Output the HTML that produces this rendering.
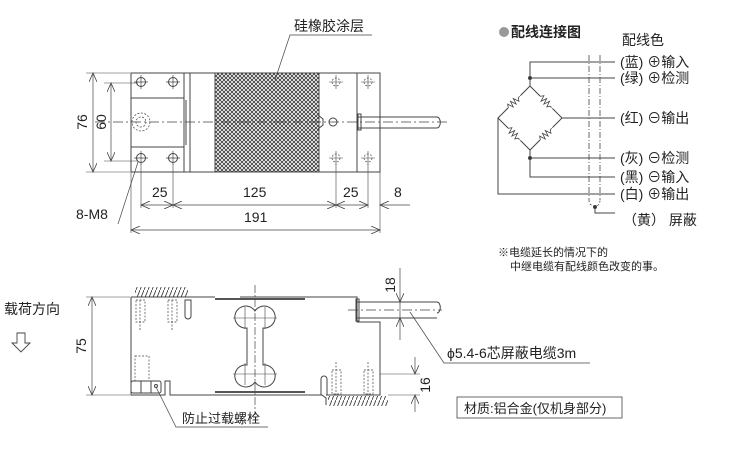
<!DOCTYPE html>
<html><head><meta charset="utf-8"><style>
body{margin:0;background:#fff}
svg{display:block}
text{font-family:"Liberation Sans","Noto Sans CJK SC",sans-serif;fill:#222}
</style></head><body>
<svg width="745" height="450" viewBox="0 0 745 450" xmlns="http://www.w3.org/2000/svg">
<defs>
<pattern id="x" width="4" height="4" patternUnits="userSpaceOnUse">
<path d="M0 0L4 4M4 0L0 4" stroke="#333" stroke-width="0.8"/></pattern>
<pattern id="h" width="4" height="10" patternUnits="userSpaceOnUse">
<path d="M0 10L4 0" stroke="#333" stroke-width="0.8"/></pattern>
<marker id="a" markerWidth="10" markerHeight="8" refX="9" refY="4" orient="auto-start-reverse" markerUnits="userSpaceOnUse"><path d="M0 0L9 4L0 8" fill="none" stroke="#444" stroke-width="0.8"/></marker>
<g id="res"><rect x="-9" y="-4" width="18" height="8" fill="#fff" stroke="none"/><path d="M-10 0h2l2-3l2 6l2-6l2 6l2-6l2 6l2-3h2" fill="none" stroke="#444" stroke-width="0.8"/></g>
</defs>
<g fill="none" stroke="#444" stroke-width="1">
<!-- TOP VIEW -->
<rect x="131" y="73" width="249" height="99"/>
<rect x="215" y="73" width="104" height="99" fill="url(#x)" stroke="none"/>
<line x1="215" y1="73" x2="215" y2="172"/><line x1="319" y1="73" x2="319" y2="172"/>
<line x1="184" y1="73" x2="184" y2="172"/><line x1="190" y1="73" x2="190" y2="172"/>
<line x1="357" y1="73" x2="357" y2="172"/>
<path d="M131 98H184M131 147H184M186 100V145"/>
<circle cx="141" cy="82" r="4.5"/><circle cx="173" cy="82" r="4.5"/>
<circle cx="141" cy="158" r="4.5"/><circle cx="173" cy="158" r="4.5"/>
<path d="M134 82h14M141 75v14M166 82h14M173 75v14M134 158h14M141 151v14M166 158h14M173 151v14" stroke-width="0.7"/>
<g stroke-dasharray="2,1.5" stroke-width="0.7"><circle cx="336" cy="82" r="4"/><circle cx="368" cy="82" r="4"/><circle cx="336" cy="158" r="4"/><circle cx="368" cy="158" r="4"/><circle cx="141" cy="122" r="9"/><circle cx="141" cy="122" r="5"/></g>
<path d="M329 82h14M336 75v14M361 82h14M368 75v14M329 158h14M336 151v14M361 158h14M368 151v14" stroke-width="0.6"/>
<circle cx="333" cy="122" r="4"/><path d="M318 115l5 4v6l-5 4" />
<path d="M357 117H437M357 128H437M358 114h3v16h-3z"/>
<path d="M437 117a3 5 0 0 1 0 11" />
<path d="M95 122H450" stroke-dasharray="10,3,2,3" stroke-width="0.7"/>
<!-- dims -->
<path d="M86 73h44M104 83h34M104 161h34M86 172h44" stroke-width="0.6"/>
<line x1="93" y1="73" x2="93" y2="172" marker-start="url(#a)" marker-end="url(#a)" stroke-width="0.7"/>
<line x1="111" y1="83" x2="111" y2="161" marker-start="url(#a)" marker-end="url(#a)" stroke-width="0.7"/>
<path d="M141 164V208M173 164V208M336 164V208M368 164V208M380 172V233M131 172V233" stroke-width="0.6"/>
<g stroke-width="0.7">
<line x1="141" y1="205" x2="173" y2="205" marker-start="url(#a)" marker-end="url(#a)"/>
<line x1="173" y1="205" x2="336" y2="205" marker-start="url(#a)" marker-end="url(#a)"/>
<line x1="336" y1="205" x2="368" y2="205" marker-start="url(#a)" marker-end="url(#a)"/>
<line x1="380" y1="205" x2="410" y2="205" marker-start="url(#a)"/>
<line x1="131" y1="230" x2="380" y2="230" marker-start="url(#a)" marker-end="url(#a)"/>
<path d="M118 224L138 162"/>
<path d="M275 80L290 35H372"/>
</g>
<!-- WIRING -->
<path d="M589 55V200M600 55V200" stroke-dasharray="6,2,1,2" stroke-width="0.8"/>
<path d="M589 200q0 6 6 6q5 0 5-6" stroke-dasharray="2,2" stroke-width="0.8"/>
<path d="M595 207V213H615"/>
<path d="M530 86V62H615M530 78H615M562 118H615M530 150V177H615M530 158H615M498 118V194H615"/>
<path d="M530 86L562 118L530 150L498 118Z"/>
<circle cx="530" cy="78" r="1.5" fill="#333"/><circle cx="530" cy="158" r="1.5" fill="#333"/><circle cx="595" cy="207" r="1.5" fill="#333"/>
</g>
<use href="#res" transform="translate(514,102) rotate(-45)"/>
<use href="#res" transform="translate(546,102) rotate(45)"/>
<use href="#res" transform="translate(514,134) rotate(45)"/>
<use href="#res" transform="translate(546,134) rotate(-45)"/>
<g fill="none" stroke="#444" stroke-width="1">
<!-- SIDE VIEW -->
<path d="M131 297H188M131 297V395H165V381H170V395H322L326 398V405M326 395H380V322H357V297H240"/>
<rect x="131" y="381" width="30" height="12" rx="2"/>
<path d="M141 381v12M151 381v12"/><circle cx="156" cy="386" r="1.5"/>
<rect x="135" y="287" width="53" height="10" fill="url(#h)" stroke="none"/>
<rect x="328" y="396" width="60" height="10" fill="url(#h)" stroke="none"/>
<path d="M188 297H215" />
<path d="M188 300h3v16a3 3 0 0 1-6 0v-16z" />
<path d="M327 395v-16a3 3 0 0 0-6 0v16"/>
<path d="M215 299H305M215 392H305" stroke-width="2" stroke="#555"/>
<!-- bone -->
<path d="M247 328A11 11 0 1 1 255 311A11 11 0 1 1 263 328V365A11 11 0 1 1 255 382A11 11 0 1 1 247 365Z" fill="#fff"/>
<path d="M255 285V415" stroke-dasharray="8,2,2,2" stroke-width="0.7"/>
<path d="M233 318h44M233 374h44M245 307v22M265 307v22M245 363v22M265 363v22" stroke-width="0.6"/>
<g stroke-dasharray="2,1.5" stroke-width="0.7">
<rect x="136" y="300" width="9" height="22"/><rect x="168" y="300" width="9" height="22"/>
<rect x="135" y="356" width="14" height="25"/>
<rect x="332" y="370" width="9" height="24"/><rect x="364" y="370" width="9" height="24"/>
<path d="M140 300V330M172 300V330M336 362V395M368 362V395"/>
</g>
<path d="M357 302H437M357 318H437M356 299h3v22h-3z"/>
<path d="M437 302a3 5 0 0 1 0 11"/>
<path d="M348 310H442" stroke-dasharray="10,3,2,3" stroke-width="0.7"/>
<path d="M86 297h44M86 395h44" stroke-width="0.6"/>
<line x1="92" y1="297" x2="92" y2="395" marker-start="url(#a)" marker-end="url(#a)" stroke-width="0.7"/>
<line x1="400" y1="268" x2="400" y2="302" marker-end="url(#a)" stroke-width="0.7"/>
<line x1="400" y1="340" x2="400" y2="318" marker-end="url(#a)" stroke-width="0.7"/>
<line x1="400" y1="302" x2="400" y2="318" stroke-width="0.7"/>
<path d="M380 374H420M388 395H420" stroke-width="0.6"/>
<line x1="415" y1="357" x2="415" y2="374" marker-end="url(#a)" stroke-width="0.7"/>
<line x1="415" y1="412" x2="415" y2="395" marker-end="url(#a)" stroke-width="0.7"/>
<path d="M410 312L444 363H590" stroke-width="0.7"/>
<path d="M156 387L176 427H268" stroke-width="0.7"/>
<rect x="457" y="397" width="165" height="21" stroke-width="0.8"/>
<path d="M17 333h8v10h5l-9 9l-9-9h5z" stroke-width="0.9"/>
</g>
<g font-size="14">
<text x="294" y="31">硅橡胶涂层</text>
<text x="152" y="197">25</text><text x="243" y="197">125</text><text x="343" y="197">25</text><text x="394" y="197">8</text>
<text x="244" y="222">191</text>
<text x="76" y="219">8-M8</text>
<text transform="translate(87,122) rotate(-90)" text-anchor="middle">76</text>
<text transform="translate(106,122) rotate(-90)" text-anchor="middle">60</text>
<text transform="translate(86,346) rotate(-90)" text-anchor="middle">75</text>
<text transform="translate(395,285) rotate(-90)" text-anchor="middle">18</text>
<text transform="translate(430,385) rotate(-90)" text-anchor="middle">16</text>
<text x="447" y="358">ϕ5.4-6芯屏蔽电缆3m</text>
<text x="182" y="423" font-size="13">防止过载螺栓</text>
<text x="464" y="413" font-size="13">材质:铝合金(仅机身部分)</text>
<text x="4" y="314" font-size="14">载荷方向</text>
</g>
<g font-size="14">
<circle cx="504" cy="32" r="5" fill="#999"/>
<text x="511" y="37" font-weight="bold">配线连接图</text>
<text x="622" y="45">配线色</text>
<text x="620" y="67">(蓝) ⊕输入</text>
<text x="620" y="83">(绿) ⊕检测</text>
<text x="620" y="123">(红) ⊖输出</text>
<text x="620" y="163">(灰) ⊖检测</text>
<text x="620" y="182">(黑) ⊖输入</text>
<text x="620" y="199">(白) ⊕输出</text>
<text x="623" y="225">（黄） 屏蔽</text>
<text x="498" y="256" font-size="11">※电缆延长的情况下的</text>
<text x="510" y="270" font-size="11">中继电缆有配线颜色改变的事。</text>
</g>
</svg>
</body></html>
